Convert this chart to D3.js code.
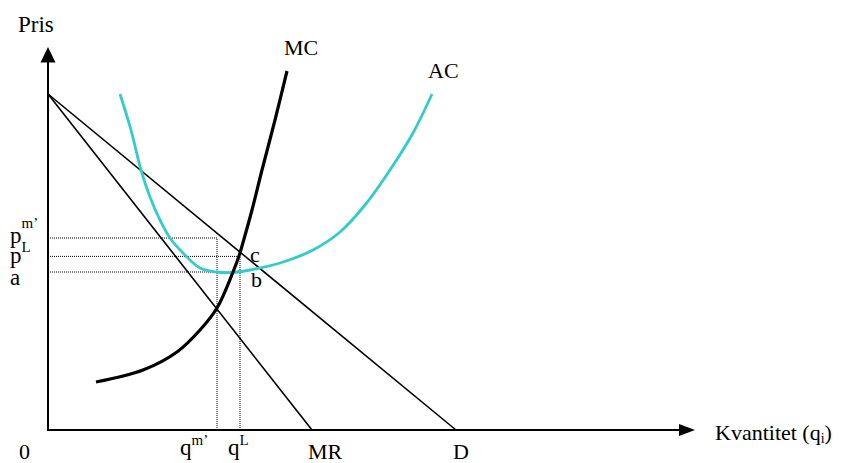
<!DOCTYPE html>
<html>
<head>
<meta charset="utf-8">
<script src="https://cdn.jsdelivr.net/npm/d3@7/dist/d3.min.js"></script>
<style>
  html, body { margin: 0; padding: 0; background: #fff; }
  svg text { font-family: "Liberation Serif", "Times New Roman", serif; fill: #000; }
</style>
</head>
<body>
<svg id="chart" width="844" height="463"></svg>
<script>
// Monopoly pricing diagram: demand, marginal revenue, marginal cost and average cost
const demand = [[0, 84], [102, 0]];
const marginalRevenue = [[0, 84], [66, 0]];
const marginalCost = [
  [12, 12], [23.75, 15], [32.25, 19.5], [38, 25], [42.25, 30.5], [46.25, 39.5],
  [47.75, 43.5], [49, 47.75], [51, 55], [53.5, 65], [56.75, 77.5], [59.75, 89.75]
];
const averageCost = [
  [18, 84], [20.75, 75], [23.25, 65], [25.5, 58.25], [27.75, 53], [30.5, 48],
  [33.75, 44.25], [38, 40.5], [42.25, 39.5], [46.25, 39.4], [50.5, 40], [58, 41.75],
  [66.25, 45], [73, 49.5], [79.25, 56.25], [85.5, 65], [91.25, 74.25], [96, 84]
];
const priceTicks = [
  { base: "p", sup: "m’", value: 48 },
  { base: "p", sup: "L", value: 43.4 },
  { base: "a", sup: "", value: 39.5 }
];
const quantityTicks = [
  { base: "q", sup: "m’", value: 42.25 },
  { base: "q", sup: "L", value: 48 }
];
const curveLabels = ["MC", "AC"];
const endLabels = ["MR", "D"];
const pointLabels = ["c", "b"];
const axisTitles = ["Pris", "Kvantitet (q", "i", ")"];

const svg = d3.select("#chart");
const x = d3.scaleLinear().domain([0, 160]).range([48, 688]);
const y = d3.scaleLinear().domain([0, 96]).range([430, 46]);
const line = d3.line().x(d => x(d[0])).y(d => y(d[1]));
const smooth = d3.line().x(d => x(d[0])).y(d => y(d[1])).curve(d3.curveCatmullRom.alpha(0.5));

// dotted guide lines from the axes to the price/quantity levels
const pm = priceTicks[0].value, pL = priceTicks[1].value, pa = priceTicks[2].value;
const qm = quantityTicks[0].value, qL = quantityTicks[1].value;
const guides = [
  [[0, pm], [qm, pm]],
  [[0, pL], [qL, pL]],
  [[0, pa], [qL + 0.6, pa]],
  [[qm, 0], [qm, pm]],
  [[qL, 0], [qL, pL]]
];
svg.append("g").selectAll("path").data(guides).join("path")
  .attr("d", line).attr("fill", "none").attr("stroke", "#000")
  .attr("stroke-width", 1).attr("stroke-dasharray", "1,1");

// demand and marginal revenue
svg.append("path").attr("d", line(demand)).attr("fill", "none")
  .attr("stroke", "#000").attr("stroke-width", 1.6);
svg.append("path").attr("d", line(marginalRevenue)).attr("fill", "none")
  .attr("stroke", "#000").attr("stroke-width", 1.6);

// average cost (teal) and marginal cost (thick black)
svg.append("path").attr("d", smooth(averageCost)).attr("fill", "none")
  .attr("stroke", "#33cccc").attr("stroke-width", 2.8);
svg.append("path").attr("d", smooth(marginalCost)).attr("fill", "none")
  .attr("stroke", "#000").attr("stroke-width", 3.2);

// axes with arrowheads
const x0 = x(0), y0 = y(0);
svg.append("line").attr("x1", x0).attr("y1", y0).attr("x2", x0).attr("y2", 60)
  .attr("stroke", "#000").attr("stroke-width", 2);
svg.append("line").attr("x1", x0 - 1).attr("y1", y0).attr("x2", 682).attr("y2", y0)
  .attr("stroke", "#000").attr("stroke-width", 2);
svg.append("path").attr("d", `M${x0},47 L${x0 - 7.5},62.5 L${x0 + 7.5},62.5 Z`).attr("fill", "#000");
svg.append("path").attr("d", `M695,${y0} L679,${y0 - 6} L679,${y0 + 6} Z`).attr("fill", "#000");

// axis titles
svg.append("text").attr("x", 18).attr("y", 32).attr("font-size", 23).text(axisTitles[0]);
const kt = svg.append("text").attr("x", 715).attr("y", 440).attr("font-size", 22);
kt.append("tspan").text(axisTitles[1]);
kt.append("tspan").attr("font-size", 14).attr("dy", 3).text(axisTitles[2]);
kt.append("tspan").attr("dy", -3).text(axisTitles[3]);
svg.append("text").attr("x", 19).attr("y", 459).attr("font-size", 22).text("0");

// price labels on the vertical axis
const priceBase = [243, 263, 285];
priceTicks.forEach((t, i) => {
  const tx = svg.append("text").attr("x", 10).attr("y", priceBase[i]).attr("font-size", 23);
  tx.append("tspan").text(t.base);
  if (t.sup) tx.append("tspan").attr("font-size", 15).attr("dy", i === 0 ? -15 : -11).text(t.sup);
});

// quantity labels under the horizontal axis
const qShift = [-37, -12];
quantityTicks.forEach((t, i) => {
  const tx = svg.append("text").attr("x", x(t.value) + qShift[i]).attr("y", 455).attr("font-size", 23);
  tx.append("tspan").text(t.base);
  tx.append("tspan").attr("font-size", 15).attr("dy", -10).text(t.sup);
});

// curve names
const mcTop = marginalCost[marginalCost.length - 1];
const acTop = averageCost[averageCost.length - 1];
svg.append("text").attr("x", x(mcTop[0]) - 3).attr("y", 55).attr("font-size", 22).text(curveLabels[0]);
svg.append("text").attr("x", x(acTop[0]) - 4).attr("y", 78).attr("font-size", 22).text(curveLabels[1]);
svg.append("text").attr("x", x(marginalRevenue[1][0]) - 4).attr("y", 459).attr("font-size", 22).text(endLabels[0]);
svg.append("text").attr("x", x(demand[1][0]) - 3).attr("y", 459).attr("font-size", 22).text(endLabels[1]);

// intersection markers
svg.append("text").attr("x", x(qL) + 10).attr("y", y(pL) + 6).attr("font-size", 22).text(pointLabels[0]);
svg.append("text").attr("x", x(qL) + 11).attr("y", y(pa) + 15).attr("font-size", 22).text(pointLabels[1]);
</script>
</body>
</html>
